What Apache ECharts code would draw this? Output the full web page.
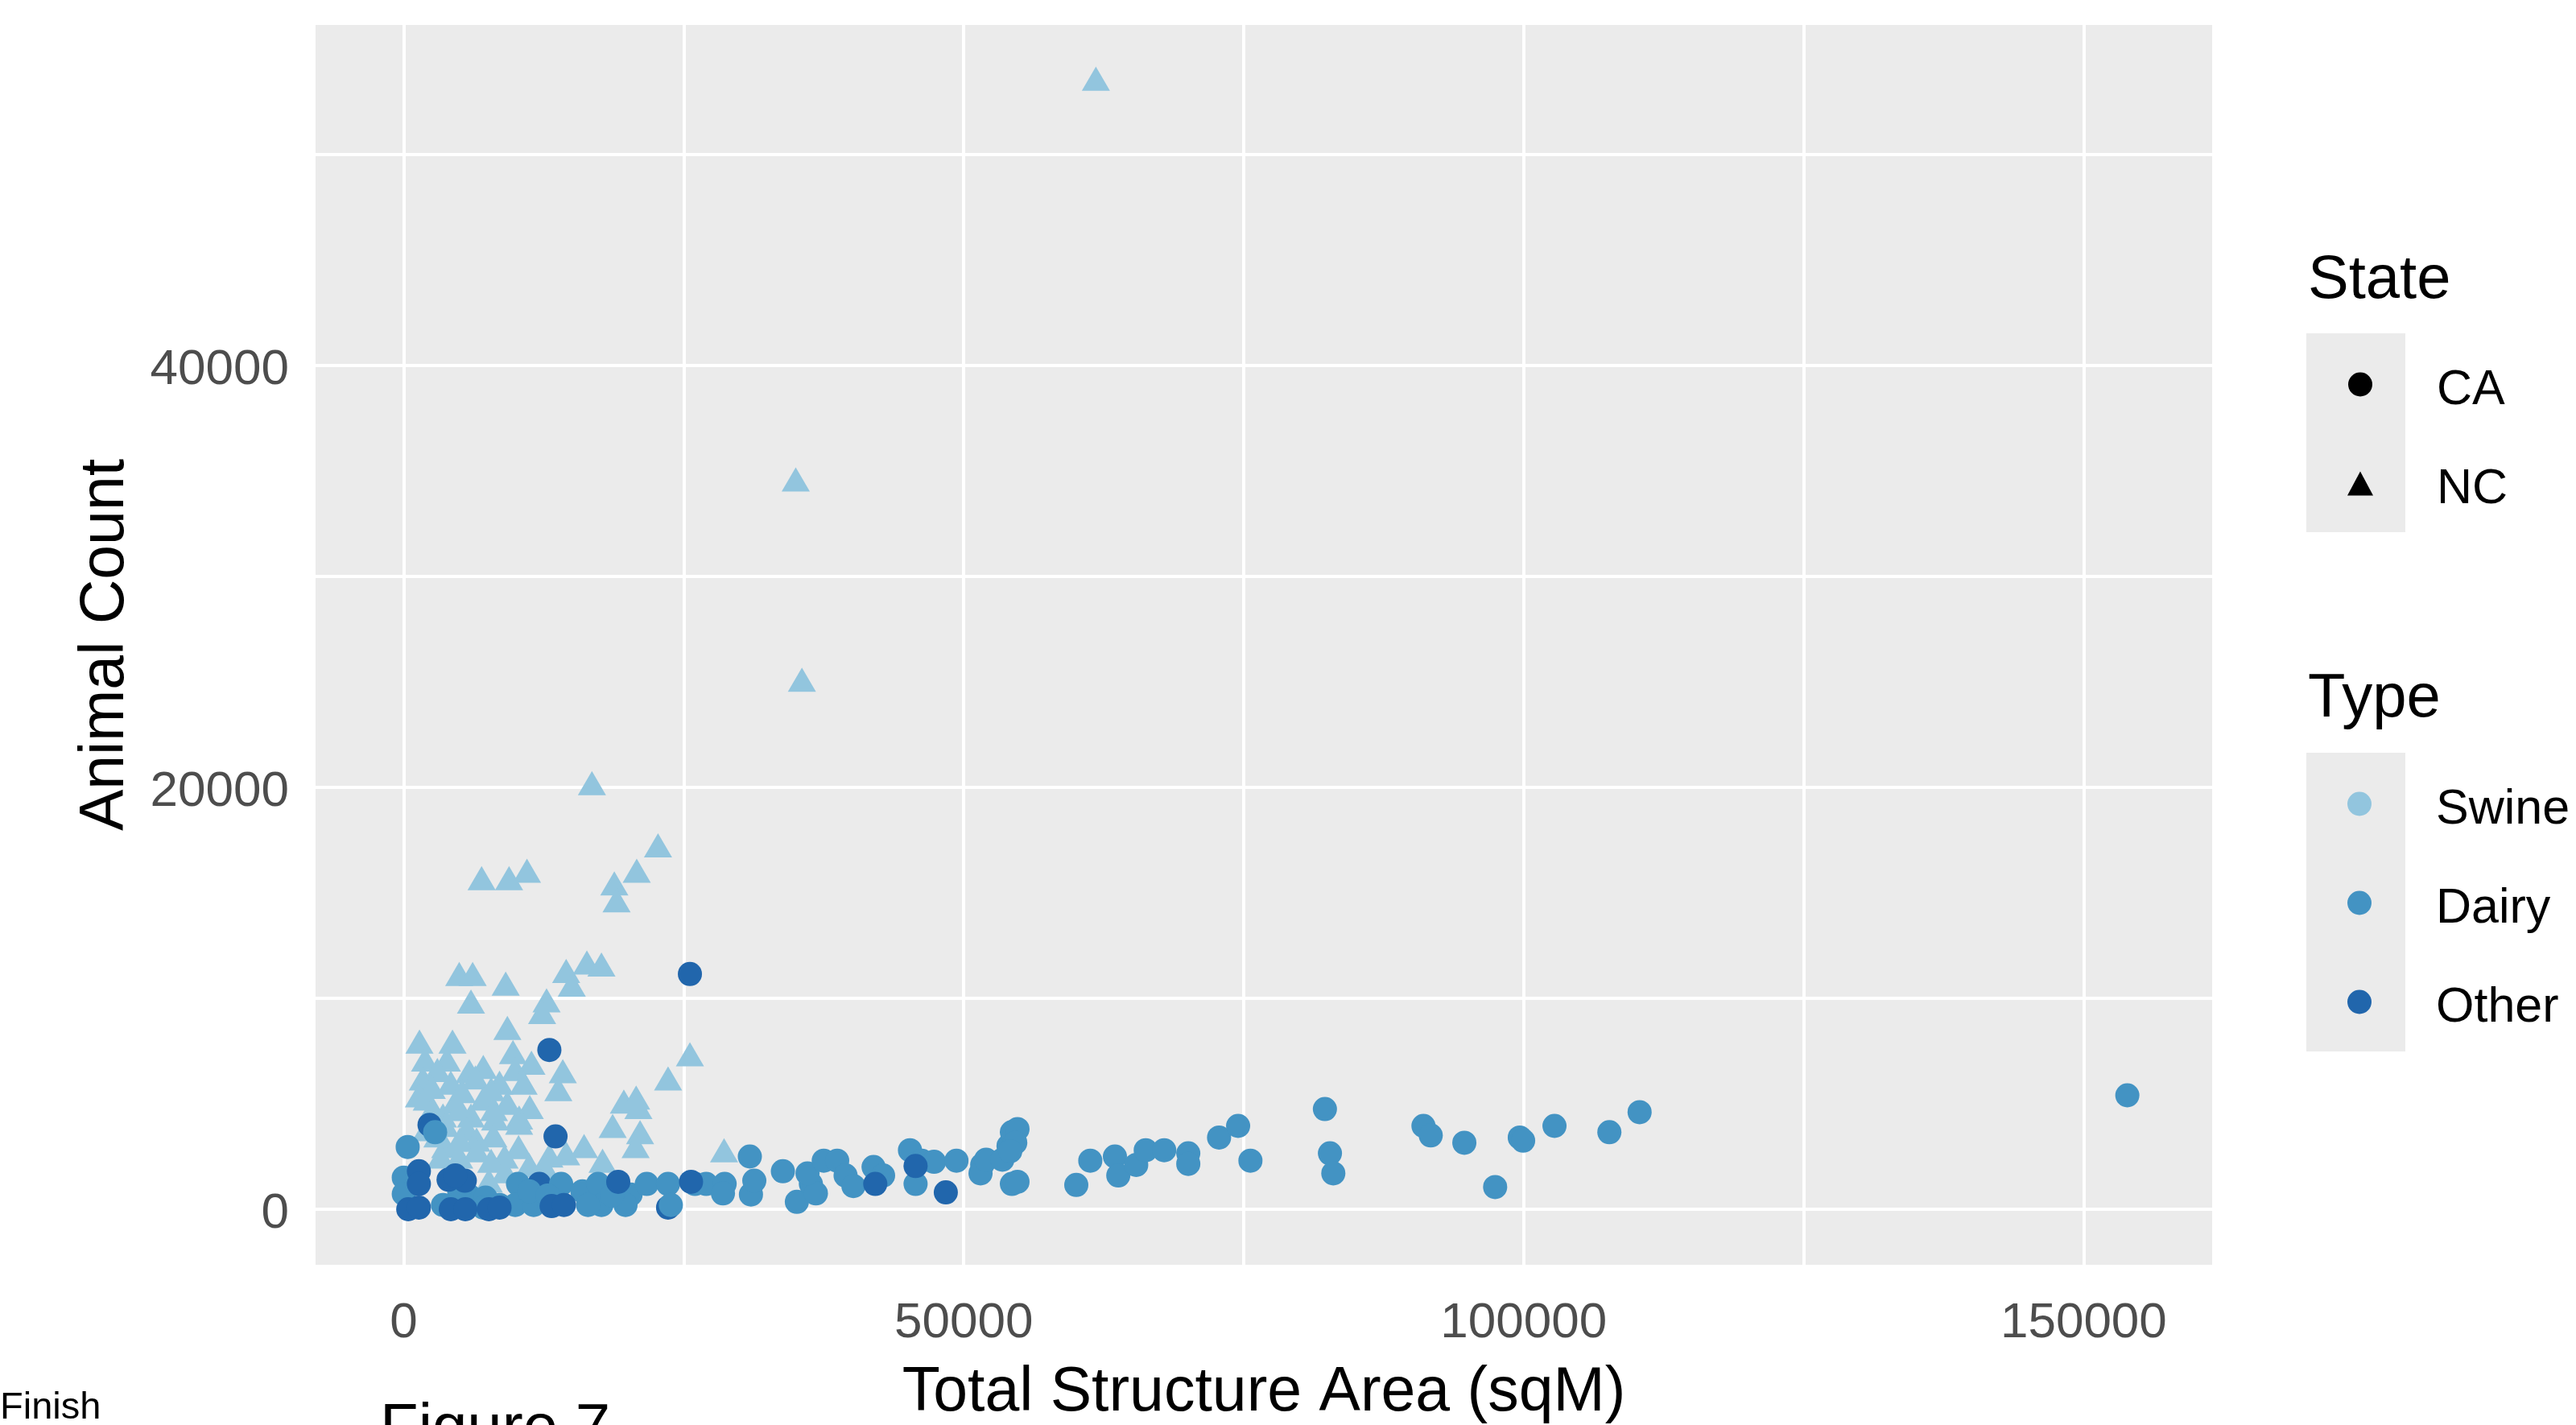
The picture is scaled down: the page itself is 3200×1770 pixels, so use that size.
<!DOCTYPE html>
<html><head><meta charset="utf-8">
<script src="https://cdn.jsdelivr.net/npm/echarts@6/dist/echarts.min.js"></script>
<style>html,body{margin:0;padding:0;background:#fff}#c{width:3200px;height:1770px}</style>
</head><body><div id="c"></div>
<script>
// ---- data ----
const xTicks = [0, 50000, 100000, 150000];
const xMinor = [25000, 75000, 125000];
const yTicks = [0, 20000, 40000];
const yMinor = [10000, 30000, 50000];
const stateItems = ['CA', 'NC'];
const typeItems = ['Swine', 'Dairy', 'Other'];

// NC, Swine (triangles)
const swine = [[61800,53600],[35000,34600],[35550,25100],[16800,20200],[22700,17250],[20800,16050],[18800,15450],[19000,14650],[6950,15700],[9400,15700],[11000,16050],[4950,11150],[6150,11150],[6000,9850],[9100,10700],[14500,11300],[16350,11700],[17650,11600],[15000,10650],[12750,9900],[12350,9350],[1400,7950],[4350,7950],[9250,8600],[9750,7450],[14200,6550],[13800,5700],[25550,7350],[23600,6200],[19650,5100],[20950,4850],[11250,4850],[5850,6550],[1900,7100],[3850,7100],[7100,6750],[9950,6650],[11400,6950],[1700,6200],[4200,6000],[6400,6250],[8550,6000],[10700,6000],[2050,5250],[4600,5100],[7100,5250],[9250,5050],[3500,4450],[6000,4450],[8150,4300],[10300,4350],[1350,5400],[18650,3950],[21100,3650],[20700,3000],[10300,4100],[16100,3000],[17750,2300],[10250,2950],[13000,2550],[14500,2650],[9050,1800],[7600,1350],[2550,4750],[4950,4750],[8050,4750],[3700,4000],[5650,3800],[3700,3000],[4950,2500],[3300,2500],[11200,2100],[12600,2000],[28600,2800],[20750,5300],[3000,6600],[2500,5800],[5200,5600],[7800,5700],[3000,3500],[6500,3300],[8000,3500],[2000,3800],[5000,3300],[6500,2800],[9000,2500],[7800,2300]];

// CA, Dairy (circles)
const dairy = [[2800,3650],[350,2950],[0,1500],[0,725],[3500,200],[5800,650],[7300,550],[7100,80],[8550,200],[10200,1200],[9950,200],[11600,200],[11200,850],[14050,1200],[15950,850],[17350,1200],[17650,200],[16450,200],[20250,700],[19800,200],[21700,1200],[23600,1200],[23850,200],[26000,1200],[4950,850],[12850,650],[18600,650],[30900,2500],[27000,1200],[28650,1200],[28500,750],[31000,700],[31300,1350],[33850,1800],[35100,350],[36350,1200],[36800,750],[36050,1700],[37500,2300],[38700,2300],[39450,1600],[40150,1100],[41950,2000],[42800,1600],[45200,2800],[46250,2300],[47350,2250],[45700,1200],[49350,2300],[51650,2100],[54000,3000],[54300,3650],[54300,1200],[51500,1700],[52000,2350],[53450,2350],[54800,3800],[54600,3150],[54800,1300],[54150,2750],[60050,1150],[61300,2300],[63500,2500],[63800,1600],[65400,2100],[66250,2800],[67900,2800],[70050,2650],[70050,2150],[72800,3400],[74500,3950],[75600,2300],[82250,4750],[82700,2650],[83000,1700],[91050,3950],[91700,3500],[94700,3150],[97450,1050],[99650,3400],[99950,3250],[102750,3950],[107650,3650],[110350,4600],[153900,5400]];

// CA, Other (circles) - some drawn under dairy, the rest over it
const otherBehind = [[2300,4000],[12100,1200],[23600,80]];
const otherFront = [[25550,11150],[13000,7550],[13550,3450],[1350,1800],[1350,1200],[400,0],[1350,80],[4000,1400],[5450,1350],[4200,0],[5500,0],[7600,0],[8550,80],[13200,150],[14300,200],[19150,1300],[25650,1300],[42100,1200],[45700,2050],[48400,800],[4600,1600]];

const colors = { Swine: '#92C5DE', Dairy: '#4393C3', Other: '#2166AC' };
const FONT = "'Liberation Sans', Arial, Helvetica, sans-serif";

const gridLines = []
  .concat(xTicks.map(v => ({ xAxis: v, lineStyle: { width: 4 } })))
  .concat(xMinor.map(v => ({ xAxis: v, lineStyle: { width: 4 } })))
  .concat(yTicks.map(v => ({ yAxis: v, lineStyle: { width: 4 } })))
  .concat(yMinor.map(v => ({ yAxis: v, lineStyle: { width: 4 } })));

const chart = echarts.init(document.getElementById('c'), null, { renderer: 'canvas' });

function pts(name, data, symbol, size, color, z) {
  return { name, type: 'scatter', data, symbol, symbolSize: size, z,
    itemStyle: { color, opacity: 1 }, emphasis: { disabled: true }, silent: true };
}

const legendText = {
  fontSize: 61, fontFamily: FONT, color: '#000',
  rich: { t: { fontSize: 61, fontFamily: FONT, color: '#000', lineHeight: 61, padding: [16, 0, 0, 74] } }
};

const option = {
  animation: false,
  backgroundColor: '#ffffff',
  grid: { left: 392, top: 31, width: 2356, height: 1540, show: true, backgroundColor: '#EBEBEB',
          borderWidth: 0, containLabel: false, outerBoundsMode: 'none' },
  xAxis: {
    type: 'value', min: -7877, max: 161473,
    axisLine: { show: false }, splitLine: { show: false },
    axisTick: { show: true, length: 18, lineStyle: { color: '#333333', width: 4 }, customValues: xTicks },
    axisLabel: { customValues: xTicks, formatter: v => String(v), color: '#4D4D4D', fontSize: 62, fontFamily: FONT, margin: 42 },
    name: 'Total Structure Area (sqM)', nameLocation: 'middle', nameGap: 121,
    nameTextStyle: { color: '#000', fontSize: 77, fontFamily: FONT }
  },
  yAxis: {
    type: 'value', min: -2634, max: 56145,
    axisLine: { show: false }, splitLine: { show: false },
    axisTick: { show: true, length: 18, lineStyle: { color: '#333333', width: 4 }, customValues: yTicks },
    axisLabel: { customValues: yTicks, formatter: v => String(v), color: '#4D4D4D', fontSize: 62, fontFamily: FONT,
                 margin: 33, verticalAlign: 'top', lineHeight: 12 },
    name: 'Animal Count', nameLocation: 'middle', nameGap: 222, nameRotate: 90,
    nameTextStyle: { color: '#000', fontSize: 77, fontFamily: FONT }
  },
  legend: [
    { data: [{ name: stateItems[0], icon: 'circle' }, { name: stateItems[1], icon: 'triangle' }],
      formatter: '{t|{name}}',
      orient: 'vertical', left: 2916, top: 439, padding: 0, itemGap: 46,
      itemWidth: 32, itemHeight: 30, selectedMode: false, textStyle: legendText },
    { data: typeItems.map(n => ({ name: n, icon: 'circle' })),
      formatter: '{t|{name}}',
      orient: 'vertical', left: 2916, top: 960, padding: 0, itemGap: 46,
      itemWidth: 32, itemHeight: 30, selectedMode: false, textStyle: legendText }
  ],
  graphic: [
    { type: 'rect', z: 1, shape: { x: 2865, y: 414, width: 123, height: 247 }, style: { fill: '#EBEBEB' } },
    { type: 'rect', z: 1, shape: { x: 2865, y: 935, width: 123, height: 371 }, style: { fill: '#EBEBEB' } },
    { type: 'text', z: 5, style: { x: 2867, y: 349, text: 'State', font: '76px ' + FONT, fill: '#000', textVerticalAlign: 'middle' } },
    { type: 'text', z: 5, style: { x: 2867, y: 869, text: 'Type', font: '76px ' + FONT, fill: '#000', textVerticalAlign: 'middle' } },
    { type: 'text', z: 5, style: { x: 0, y: 1749, text: 'Finish', font: '47px ' + FONT, fill: '#000', textVerticalAlign: 'middle' } },
    { type: 'text', z: 5, style: { x: 472, y: 1776, text: 'Figure 7', font: '78px ' + FONT, fill: '#000', textVerticalAlign: 'middle' } }
  ],
  series: [
    { name: 'grid', type: 'scatter', data: [], silent: true,
      markLine: { silent: true, z: 1, symbol: ['none', 'none'], label: { show: false }, animation: false,
        emphasis: { disabled: true },
        lineStyle: { color: '#ffffff', type: 'solid', width: 4 }, data: gridLines } },
    pts('Swine', swine, 'triangle', [35, 30], colors.Swine, 2),
    pts('Other', otherBehind, 'circle', 30, colors.Other, 2),
    pts('Dairy', dairy, 'circle', 30, colors.Dairy, 2),
    pts('Other', otherFront, 'circle', 30, colors.Other, 2),
    pts('CA', [], 'circle', 30, '#000000', 2),
    pts('NC', [], 'triangle', [35, 30], '#000000', 2)
  ]
};
chart.setOption(option);
</script>
</body></html>
